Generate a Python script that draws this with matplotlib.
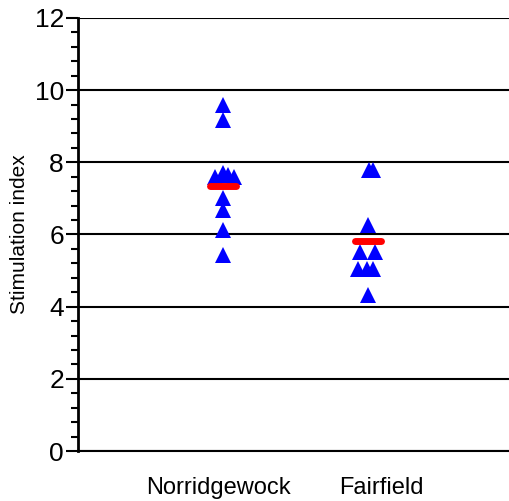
import matplotlib.pyplot as plt
from matplotlib.ticker import MultipleLocator

# Stimulation index per animal, two herds
groups = ['Norridgewock', 'Fairfield']
norridgewock = [9.6, 9.17, 7.6, 7.7, 7.65, 7.6, 7.0, 6.68, 6.12, 5.43]
norridgewock_spread = [0, 0, -0.055, 0, 0.034, 0.076, 0, 0, 0, 0]
fairfield = [7.8, 7.8, 6.26, 5.51, 5.51, 5.04, 5.04, 5.04, 4.32]
fairfield_spread = [0.007, 0.034, 0, -0.055, 0.048, -0.069, -0.007, 0.034, 0]
group_means = [7.35, 5.83]

plt.rcParams['font.family'] = ['Liberation Sans', 'DejaVu Sans']

fig = plt.figure(figsize=(5.09, 5.01), dpi=100)
ax = fig.add_axes([0.153, 0.0998, 0.847, 0.8643])

for i, (vals, spread) in enumerate([(norridgewock, norridgewock_spread),
                                    (fairfield, fairfield_spread)]):
    xs = [i + 1 + s for s in spread]
    ax.plot(xs, vals, linestyle='none', marker='^', markersize=11,
            color='#0000ff', markeredgewidth=0, zorder=3)

for i, m in enumerate(group_means):
    ax.plot([i + 1 - 0.09, i + 1 + 0.09], [m, m], color='#ff0000', lw=5,
            solid_capstyle='round', zorder=4)

ax.set_xlim(0, 2.97)
ax.set_ylim(0, 12)
ax.yaxis.set_major_locator(MultipleLocator(2))
ax.yaxis.set_minor_locator(MultipleLocator(0.4))
# group names sit slightly off the columns
ax.set_xticks([0.965, 2.09])
ax.set_xticklabels(groups, fontsize=17)
ax.tick_params(axis='x', length=0, pad=19)
ax.tick_params(axis='y', which='major', length=9, width=1.5, labelsize=19, pad=1)
ax.tick_params(axis='y', which='minor', length=5, width=1.5)
ax.set_ylabel('Stimulation index', fontsize=15, labelpad=4)

ax.grid(axis='y', which='major', color='black', lw=1.5)
ax.set_axisbelow(True)
for side in ['top', 'right']:
    ax.spines[side].set_visible(False)
ax.spines['left'].set_linewidth(2)
ax.spines['bottom'].set_linewidth(1.5)

fig.savefig('out.png', dpi=100)
